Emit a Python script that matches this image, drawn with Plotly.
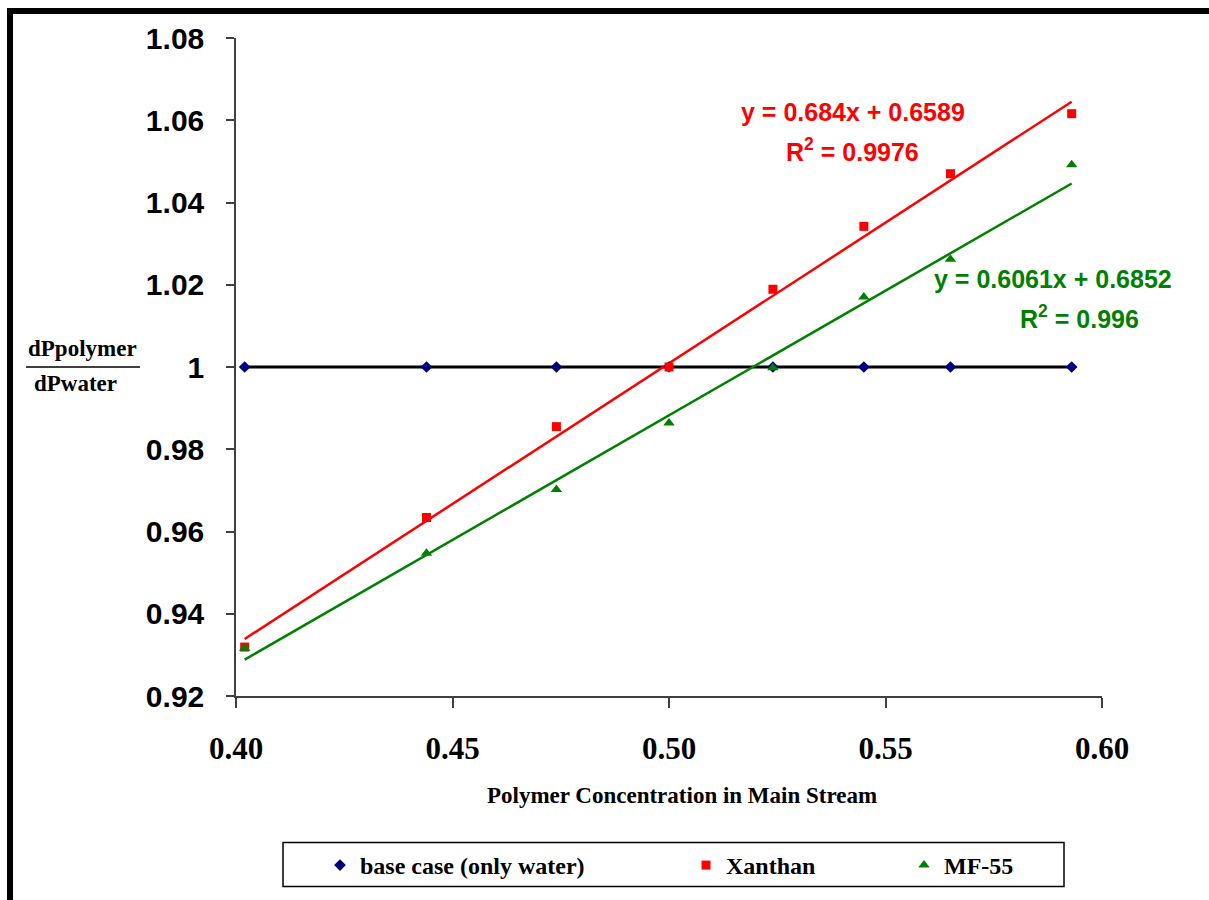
import plotly.graph_objects as go

# ---- data ----
conc = [0.402, 0.444, 0.474, 0.500, 0.524, 0.545, 0.565, 0.593]
base_case = [1.0, 1.0, 1.0, 1.0, 1.0, 1.0, 1.0, 1.0]
xanthan = [0.9319, 0.9634, 0.9855, 1.0000, 1.0189, 1.0342, 1.0470, 1.0616]
mf55 = [0.9316, 0.9547, 0.9702, 0.9864, 0.9998, 1.0170, 1.0262, 1.0492]

xan_slope, xan_icpt = 0.684, 0.6589
mf_slope, mf_icpt = 0.6061, 0.6852

x_tickvals = [0.40, 0.45, 0.50, 0.55, 0.60]
x_ticktext = ["0.40", "0.45", "0.50", "0.55", "0.60"]
y_tickvals = [0.92, 0.94, 0.96, 0.98, 1.00, 1.02, 1.04, 1.06, 1.08]
y_ticktext = ["0.92", "0.94", "0.96", "0.98", "1", "1.02", "1.04", "1.06", "1.08"]

RED = "#ff0000"
GREEN = "#008000"
NAVY = "#000080"
SERIF = "Liberation Serif, Times New Roman, serif"
SANS = "Liberation Sans, Arial, sans-serif"

W, H = 1209, 900
L, R, T, B = 236, 1102, 38, 698


def px_x(p):
    return (p - L) / (R - L)


def px_y(p):
    return (B - p) / (B - T)


trend_x = [conc[0], conc[-1]]
xan_trend = [xan_slope * v + xan_icpt for v in trend_x]
mf_trend = [mf_slope * v + mf_icpt for v in trend_x]

fig = go.Figure()

# base case line
fig.add_trace(go.Scatter(x=conc, y=base_case, mode="lines",
                         line=dict(color="black", width=3),
                         showlegend=False, hoverinfo="skip"))
# trend lines
fig.add_trace(go.Scatter(x=trend_x, y=xan_trend, mode="lines",
                         line=dict(color=RED, width=2.5),
                         showlegend=False, hoverinfo="skip"))
fig.add_trace(go.Scatter(x=trend_x, y=mf_trend, mode="lines",
                         line=dict(color=GREEN, width=2.5),
                         showlegend=False, hoverinfo="skip"))
# markers
fig.add_trace(go.Scatter(x=conc, y=base_case, mode="markers",
                         name="base case (only water)",
                         marker=dict(symbol="diamond", color=NAVY, size=9),
                         legend="legend"))
fig.add_trace(go.Scatter(x=conc, y=xanthan, mode="markers", name="Xanthan",
                         marker=dict(symbol="square", color=RED, size=9),
                         legend="legend2"))
fig.add_trace(go.Scatter(x=conc, y=mf55, mode="markers", name="MF-55",
                         marker=dict(symbol="triangle-up", color=GREEN, size=10),
                         legend="legend3"))

leg_font = dict(family=SERIF, size=24, color="black", weight="bold")
leg_common = dict(orientation="h", yanchor="middle", xanchor="left",
                  bgcolor="rgba(0,0,0,0)", borderwidth=0, font=leg_font,
                  itemclick=False, itemdoubleclick=False)

fig.update_layout(
    width=W, height=H,
    margin=dict(l=L, r=W - R, t=T, b=H - B, pad=0),
    plot_bgcolor="white", paper_bgcolor="white",
    xaxis=dict(range=[0.40, 0.60], tickvals=x_tickvals, ticktext=x_ticktext,
               showgrid=False, zeroline=False, showline=True,
               linecolor="#404040", linewidth=1.5,
               ticks="outside", ticklen=10, tickwidth=1.5, tickcolor="#404040",
               ticklabelstandoff=14,
               tickfont=dict(family=SERIF, size=31, color="black", weight="bold")),
    yaxis=dict(range=[0.92, 1.08], tickvals=y_tickvals, ticktext=y_ticktext,
               showgrid=False, zeroline=False, showline=True,
               linecolor="#404040", linewidth=1.5,
               ticks="outside", ticklen=8, tickwidth=1.5, tickcolor="#404040",
               ticklabelstandoff=16,
               tickfont=dict(family=SANS, size=30, color="black", weight="bold")),
    legend=dict(x=px_x(320), y=px_y(868), **leg_common),
    legend2=dict(x=px_x(686), y=px_y(868), **leg_common),
    legend3=dict(x=px_x(904), y=px_y(868), **leg_common),
)

ann_font_r = dict(family=SANS, size=25, color=RED, weight="bold")
ann_font_g = dict(family=SANS, size=25, color=GREEN, weight="bold")
annotations = [
    dict(x=px_x(853), y=px_y(112), text="y = 0.684x + 0.6589", font=ann_font_r),
    dict(x=px_x(852), y=px_y(150), text="R<sup>2</sup> = 0.9976", font=ann_font_r),
    dict(x=px_x(1053), y=px_y(280), text="y = 0.6061x + 0.6852", font=ann_font_g),
    dict(x=px_x(1079), y=px_y(318), text="R<sup>2</sup> = 0.996", font=ann_font_g),
    dict(x=px_x(82), y=px_y(349), text="dPpolymer",
         font=dict(family=SERIF, size=23, color="black", weight="bold")),
    dict(x=px_x(75), y=px_y(385), text="dPwater",
         font=dict(family=SERIF, size=23, color="black", weight="bold")),
    dict(x=px_x(682), y=px_y(798), text="Polymer Concentration in Main Stream",
         font=dict(family=SERIF, size=23, color="black", weight="bold")),
]
for a in annotations:
    a.update(xref="paper", yref="paper", showarrow=False,
             xanchor="center", yanchor="middle")
fig.update_layout(annotations=annotations)

shapes = [
    # fraction bar
    dict(type="line", xref="paper", yref="paper",
         x0=px_x(26), x1=px_x(140), y0=px_y(368), y1=px_y(368),
         line=dict(color="black", width=1.5)),
    # legend box
    dict(type="rect", xref="paper", yref="paper",
         x0=px_x(283), x1=px_x(1064), y0=px_y(889), y1=px_y(845),
         line=dict(color="black", width=1.5)),
    # outer frame (left and top thick borders)
    dict(type="line", xref="paper", yref="paper",
         x0=px_x(10), x1=px_x(10), y0=px_y(8), y1=px_y(905),
         line=dict(color="black", width=6)),
    dict(type="line", xref="paper", yref="paper",
         x0=px_x(7), x1=px_x(1215), y0=px_y(11), y1=px_y(11),
         line=dict(color="black", width=6)),
]
fig.update_layout(shapes=shapes)

fig.write_html("out.html",
               config={"displayModeBar": False},
               post_script="document.body.style.margin='0px';"
                           "document.body.style.overflow='hidden';")
